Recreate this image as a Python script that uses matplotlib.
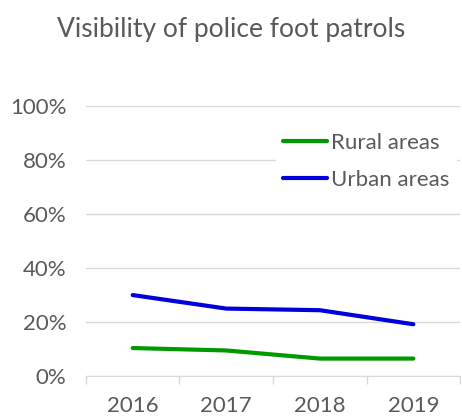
import matplotlib.pyplot as plt
import numpy as np

years = ['2016', '2017', '2018', '2019']
rural = [0.104, 0.095, 0.065, 0.065]
urban = [0.30, 0.25, 0.244, 0.192]

plt.rcParams['font.family'] = ['Lato', 'DejaVu Sans']
grey = '#595959'

fig = plt.figure(figsize=(4.62, 4.17), dpi=100)
ax = fig.add_axes([0.186, 0.098, 0.81, 0.648])

x = np.arange(len(years))
ax.plot(x, rural, color='#009900', lw=3, label='Rural areas', solid_capstyle='round')
ax.plot(x, urban, color='#0000DD', lw=3, label='Urban areas', solid_capstyle='round')

ax.set_xlim(-0.5, 3.5)
ax.set_ylim(0, 1)
ax.set_yticks(np.arange(0, 1.01, 0.2))
ax.set_yticklabels([f'{int(round(v * 100))}%' for v in np.arange(0, 1.01, 0.2)])
ax.set_xticks(x)
ax.set_xticklabels(years)
ax.set_xticks(np.arange(-0.5, 3.6, 1), minor=True)
ax.tick_params(axis='x', which='major', length=0, pad=14, labelsize=16, colors=grey)
ax.tick_params(axis='x', which='minor', length=6, color='#D9D9D9', width=1)
ax.tick_params(axis='y', length=0, pad=14, labelsize=16, colors=grey)
ax.grid(axis='y', color='#D9D9D9', lw=1)
ax.set_axisbelow(True)
for s in ['top', 'right', 'left']:
    ax.spines[s].set_visible(False)
ax.spines['bottom'].set_color('#D9D9D9')

leg = ax.legend(loc='upper right', bbox_to_anchor=(1.0, 0.94), frameon=True, fontsize=16,
                handlelength=2.0, handletextpad=0.15, labelspacing=0.75, borderpad=0.3,
                borderaxespad=0.2)
leg.get_frame().set_edgecolor('white')
leg.get_frame().set_alpha(1)
for t in leg.get_texts():
    t.set_color(grey)

fig.text(0.5, 0.93, 'Visibility of police foot patrols', ha='center', va='center',
         fontsize=19, color=grey)

fig.savefig('out.png', dpi=100)
